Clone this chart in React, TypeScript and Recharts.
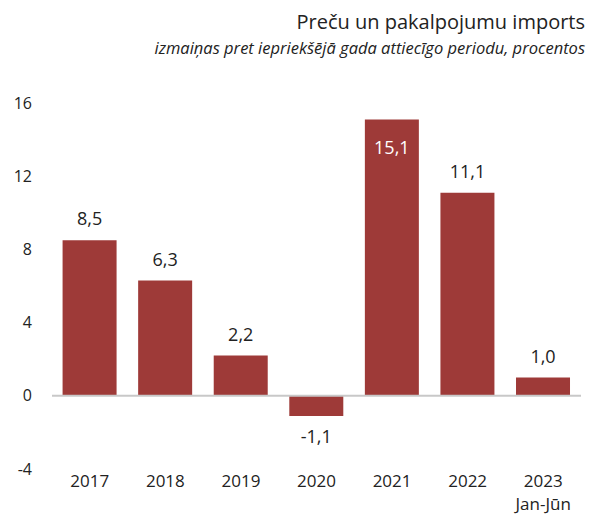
import React from "react";
import { BarChart, Bar, XAxis, YAxis, ReferenceLine, LabelList } from "recharts";

const years = ["2017", "2018", "2019", "2020", "2021", "2022", "2023"];
const subLabels = ["", "", "", "", "", "", "Jan-Jūn"];
const imports = [8.5, 6.3, 2.2, -1.1, 15.1, 11.1, 1.0];
const yTicks = [-4, 0, 4, 8, 12, 16];

const data = years.map((year, i) => ({ year, sub: subLabels[i], value: imports[i] }));

const FONT = "'Open Sans', sans-serif";
const BAR_COLOR = "#9e3a38";

const fmt = (v: number) => v.toFixed(1).replace(".", ",");

const XTick = (props: any) => {
  const { x, y, payload, index } = props;
  const sub = subLabels[index];
  return (
    <g>
      <text x={x} y={y} dy={6} textAnchor="middle" fontSize={17} fill="#222" fontFamily={FONT}>
        {payload.value}
      </text>
      {sub ? (
        <text x={x} y={y} dy={29} textAnchor="middle" fontSize={17} fill="#222" fontFamily={FONT}>
          {sub}
        </text>
      ) : null}
    </g>
  );
};

const renderLabel = (props: any) => {
  const { x, y, width, height, value } = props;
  const cx = Number(x) + Number(width) / 2;
  const v = Number(value);
  let ty: number;
  let fill = "#222";
  if (v < 0) {
    ty = Number(y) + Number(height) + 40;
  } else if (v > 14) {
    ty = Number(y) + 28;
    fill = "#fff";
  } else {
    ty = Number(y) - 22;
  }
  return (
    <text x={cx} y={ty} textAnchor="middle" dominantBaseline="central" fontSize={18} fill={fill} fontFamily={FONT}>
      {fmt(v)}
    </text>
  );
};

export default function App() {
  return (
    <div style={{ position: "absolute", left: 0, top: 0, width: 603, height: 522, background: "#fff", fontFamily: FONT }}>
      <div style={{ position: "absolute", right: 18, top: 8, fontSize: 20, color: "#222", whiteSpace: "nowrap" }}>
        Preču un pakalpojumu imports
      </div>
      <div style={{ position: "absolute", right: 18, top: 36, fontSize: 16.5, fontStyle: "italic", color: "#222", whiteSpace: "nowrap" }}>
        izmaiņas pret iepriekšējā gada attiecīgo periodu, procentos
      </div>
      <BarChart
        width={603}
        height={522}
        data={data}
        margin={{ top: 103, right: 22, bottom: 13, left: 0 }}
        barCategoryGap="14%"
      >
        <XAxis
          dataKey="year"
          axisLine={false}
          tickLine={false}
          tickSize={0}
          tickMargin={12}
          height={40}
          interval={0}
          tick={<XTick />}
        />
        <YAxis
          domain={[-4, 16]}
          ticks={yTicks}
          axisLine={false}
          tickLine={false}
          tickSize={0}
          tickMargin={20}
          width={52}
          tick={{ fontSize: 16, fill: "#222", fontFamily: FONT }}
        />
        <Bar dataKey="value" fill={BAR_COLOR} isAnimationActive={false}>
          <LabelList dataKey="value" content={renderLabel} />
        </Bar>
        <ReferenceLine y={0} stroke="#c8c8c8" strokeWidth={2} />
      </BarChart>
    </div>
  );
}
